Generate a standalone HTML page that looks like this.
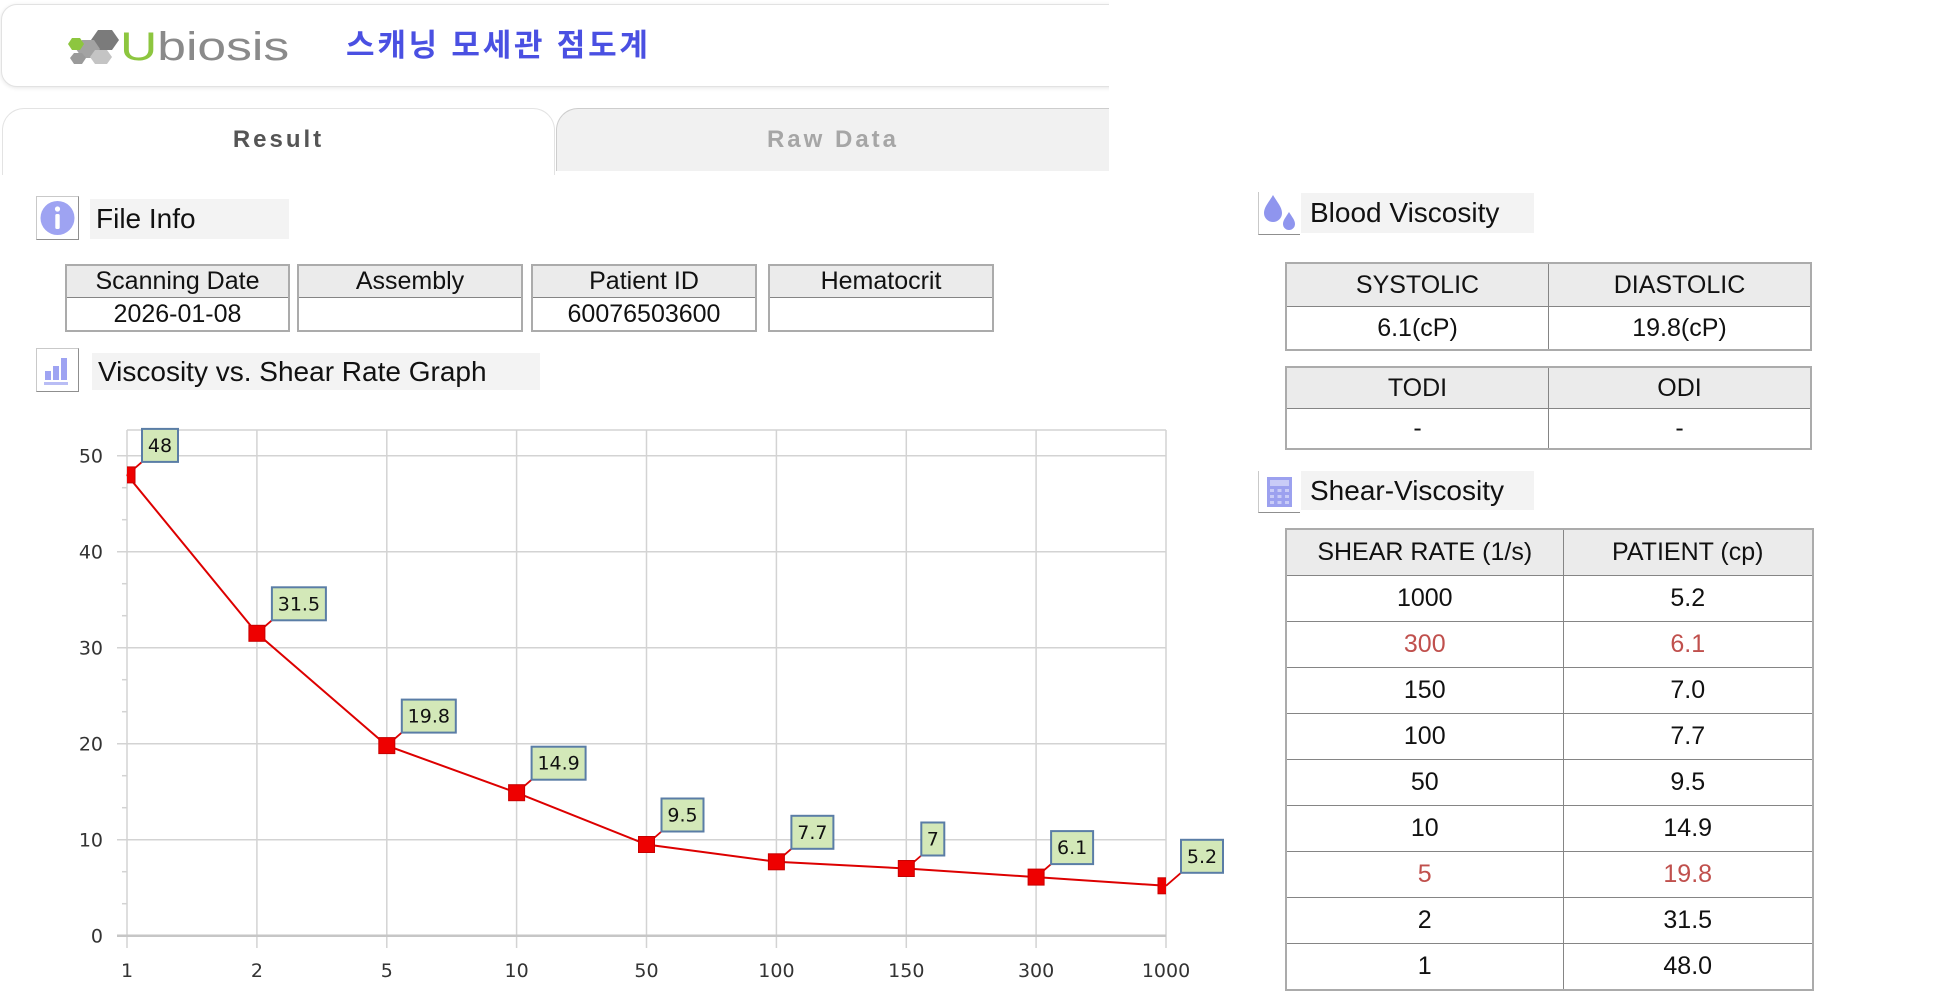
<!DOCTYPE html>
<html>
<head>
<meta charset="utf-8">
<style>
  html,body{margin:0;padding:0;background:#fff;}
  body{width:1943px;height:995px;position:relative;overflow:hidden;font-family:"Liberation Sans",Arial,sans-serif;color:#111;}
  .abs{position:absolute;}
  #left{position:absolute;left:0;top:0;width:1109px;height:175px;overflow:hidden;}
  .card{position:absolute;left:1px;top:4px;width:1160px;height:81px;border:1.5px solid #e2e2e2;border-radius:16px;box-shadow:0 1px 4px rgba(0,0,0,0.10);background:#fff;}
  .tabR{position:absolute;left:2px;top:108px;width:551px;height:80px;border:1.5px solid #e3e3e3;border-bottom:none;border-radius:22px 22px 0 0;background:#fff;}
  .tabD{position:absolute;left:556px;top:108px;width:600px;height:62px;border:1.5px solid #cdcdcd;border-bottom:none;border-radius:22px 22px 0 0;background:#f1f1f1;}
  .tabtxt{position:absolute;top:0;height:62px;line-height:62px;font-weight:bold;font-size:24px;letter-spacing:3px;text-align:center;}
  .ibox{position:absolute;width:43px;height:44px;border:1px solid #c9c9c9;border-right-color:#8f8f8f;border-bottom-color:#8f8f8f;background:#fff;box-sizing:border-box;}
  .lbl{position:absolute;background:#f3f3f3;font-size:28px;height:40px;line-height:40px;padding-left:6px;box-sizing:border-box;color:#111;white-space:nowrap;}
  table.t{position:absolute;border-collapse:collapse;table-layout:fixed;border:2px solid #ababab;font-size:25px;}
  table.t td{border:1.5px solid #858585;text-align:center;padding:0;white-space:nowrap;overflow:hidden;}
  table.t tr.h td{background:#ebebeb;}
  .red{color:#c0504d;}
</style>
</head>
<body>

<div id="left">
  <div class="card"></div>
  <!-- logo -->
  <svg class="abs" style="left:68px;top:28px" width="56" height="38" viewBox="0 0 56 38">
    <polygon points="30,2 44,2 51,12 44,22 30,22 23,12" fill="#7b7b7b"/>
    <polygon points="14,12 26,12 32,21 26,30 14,30 8,21" fill="#a3a3a3"/>
    <polygon points="4,10 12,10 16,16 12,22 4,22 0,16" fill="#8dc63f"/>
    <polygon points="6,25 14,25 18,30 14,36 6,36 2,30" fill="#9a9a9a"/>
    <polygon points="27,22 39,22 44,29 39,36 27,36 22,29" fill="#c4c4c4"/>
  </svg>
  <div class="abs" style="left:120px;top:22px;font-size:40px;line-height:50px;transform:scaleX(1.29);transform-origin:0 0;white-space:nowrap;"><span style="color:#8dc63f">U</span><span style="color:#8a8a8a">biosis</span></div>
  <div class="abs" style="left:346px;top:26px;font-family:'Liberation Sans','Noto Sans CJK KR',sans-serif;font-weight:700;font-size:31px;letter-spacing:2.8px;line-height:40px;color:#4a50e2;white-space:nowrap;">스캐닝 모세관 점도계</div>

  <div class="tabD"><div class="tabtxt" style="left:0;width:552px;color:#a6a6a6;">Raw Data</div></div>
  <div class="tabR"><div class="tabtxt" style="left:0;width:551px;color:#555;">Result</div></div>
</div>

<!-- File Info heading -->
<div class="ibox" style="left:36px;top:196px;">
  <svg width="41" height="42" viewBox="0 0 41 42"><circle cx="20.5" cy="21" r="17" fill="#9ea3f2"/><circle cx="20.5" cy="12" r="2.6" fill="#fff"/><rect x="18.3" y="17" width="4.4" height="15" rx="1.5" fill="#fff"/></svg>
</div>
<div class="lbl" style="left:90px;top:199px;width:199px;">File Info</div>

<table class="t" style="left:65px;top:264px;width:225px;"><tr class="h"><td style="height:31px;line-height:31px;">Scanning Date</td></tr><tr><td style="height:32px;line-height:32px;">2026-01-08</td></tr></table>
<table class="t" style="left:297px;top:264px;width:226px;"><tr class="h"><td style="height:31px;line-height:31px;">Assembly</td></tr><tr><td style="height:32px;line-height:32px;"></td></tr></table>
<table class="t" style="left:531px;top:264px;width:226px;"><tr class="h"><td style="height:31px;line-height:31px;">Patient ID</td></tr><tr><td style="height:32px;line-height:32px;">60076503600</td></tr></table>
<table class="t" style="left:768px;top:264px;width:226px;"><tr class="h"><td style="height:31px;line-height:31px;">Hematocrit</td></tr><tr><td style="height:32px;line-height:32px;"></td></tr></table>

<!-- Graph heading -->
<div class="ibox" style="left:36px;top:348px;">
  <svg width="41" height="42" viewBox="0 0 41 42"><rect x="8" y="22" width="6" height="9" fill="#9ea3f2"/><rect x="16" y="17" width="6" height="14" fill="#9ea3f2"/><rect x="24" y="9" width="6" height="22" fill="#9ea3f2"/><rect x="7" y="33" width="24" height="3" fill="#b9bdf5"/></svg>
</div>
<div class="lbl" style="left:92px;top:353px;width:448px;height:37px;line-height:37px;">Viscosity vs. Shear Rate Graph</div>

<!-- Chart -->
<svg class="abs" style="left:0;top:0" width="1943" height="995" viewBox="0 0 1943 995">
  <defs><clipPath id="pc"><rect x="127" y="380" width="1039" height="600"/></clipPath></defs>
  <g stroke="#d3d3d3" stroke-width="1.5" fill="none">
    <line x1="127" y1="430" x2="1166" y2="430"/>
    <line x1="117" y1="455.7" x2="1166" y2="455.7"/>
    <line x1="117" y1="551.7" x2="1166" y2="551.7"/>
    <line x1="117" y1="647.7" x2="1166" y2="647.7"/>
    <line x1="117" y1="743.7" x2="1166" y2="743.7"/>
    <line x1="117" y1="839.7" x2="1166" y2="839.7"/>
    <line x1="127" y1="430" x2="127" y2="948"/>
    <line x1="256.9" y1="430" x2="256.9" y2="948"/>
    <line x1="386.8" y1="430" x2="386.8" y2="948"/>
    <line x1="516.6" y1="430" x2="516.6" y2="948"/>
    <line x1="646.5" y1="430" x2="646.5" y2="948"/>
    <line x1="776.4" y1="430" x2="776.4" y2="948"/>
    <line x1="906.3" y1="430" x2="906.3" y2="948"/>
    <line x1="1036.1" y1="430" x2="1036.1" y2="948"/>
    <line x1="1166" y1="430" x2="1166" y2="948"/>
    <line x1="122" y1="487.7" x2="127" y2="487.7"/>
    <line x1="122" y1="519.7" x2="127" y2="519.7"/>
    <line x1="122" y1="583.7" x2="127" y2="583.7"/>
    <line x1="122" y1="615.7" x2="127" y2="615.7"/>
    <line x1="122" y1="679.7" x2="127" y2="679.7"/>
    <line x1="122" y1="711.7" x2="127" y2="711.7"/>
    <line x1="122" y1="775.7" x2="127" y2="775.7"/>
    <line x1="122" y1="807.7" x2="127" y2="807.7"/>
    <line x1="122" y1="871.7" x2="127" y2="871.7"/>
    <line x1="122" y1="903.7" x2="127" y2="903.7"/>
  </g>
  <line x1="117" y1="935.7" x2="1166" y2="935.7" stroke="#c6c6c6" stroke-width="2.5"/>

  <g font-family="'DejaVu Sans',Tahoma,sans-serif" font-size="19" fill="#333">
    <g text-anchor="end">
      <text x="103" y="462.7">50</text>
      <text x="103" y="558.7">40</text>
      <text x="103" y="654.7">30</text>
      <text x="103" y="750.7">20</text>
      <text x="103" y="846.7">10</text>
      <text x="103" y="942.7">0</text>
    </g>
    <g text-anchor="middle">
      <text x="127" y="977">1</text>
      <text x="256.9" y="977">2</text>
      <text x="386.8" y="977">5</text>
      <text x="516.6" y="977">10</text>
      <text x="646.5" y="977">50</text>
      <text x="776.4" y="977">100</text>
      <text x="906.3" y="977">150</text>
      <text x="1036.1" y="977">300</text>
      <text x="1166" y="977">1000</text>
    </g>
  </g>

  <polyline fill="none" stroke="#dd0000" stroke-width="2" points="127,474.9 256.9,633.3 386.8,745.6 516.6,792.7 646.5,844.5 776.4,861.8 906.3,868.5 1036.1,877.1 1166,885.8"/>

  <g stroke="#dd0000" stroke-width="1.8">
    <line x1="127" y1="474.9" x2="142" y2="461.9"/>
    <line x1="256.9" y1="633.3" x2="271.9" y2="620.3"/>
    <line x1="386.8" y1="745.6" x2="401.8" y2="732.6"/>
    <line x1="516.6" y1="792.7" x2="531.6" y2="779.7"/>
    <line x1="646.5" y1="844.5" x2="661.5" y2="831.5"/>
    <line x1="776.4" y1="861.8" x2="791.4" y2="848.8"/>
    <line x1="906.3" y1="868.5" x2="921.3" y2="855.5"/>
    <line x1="1036.1" y1="877.1" x2="1051.1" y2="864.1"/>
    <line x1="1166" y1="885.8" x2="1181" y2="872.8"/>
  </g>

  <g clip-path="url(#pc)" fill="#ee0000" stroke="#c80000" stroke-width="1">
    <rect x="119" y="466.9" width="16" height="16"/>
    <rect x="248.9" y="625.3" width="16" height="16"/>
    <rect x="378.8" y="737.6" width="16" height="16"/>
    <rect x="508.6" y="784.7" width="16" height="16"/>
    <rect x="638.5" y="836.5" width="16" height="16"/>
    <rect x="768.4" y="853.8" width="16" height="16"/>
    <rect x="898.3" y="860.5" width="16" height="16"/>
    <rect x="1028.1" y="869.1" width="16" height="16"/>
    <rect x="1158" y="877.8" width="16" height="16"/>
  </g>

  <g fill="#d3e8b8" stroke="#5a7da6" stroke-width="2">
    <rect x="142" y="428.9" width="36" height="33"/>
    <rect x="271.9" y="587.3" width="54" height="33"/>
    <rect x="401.8" y="699.6" width="54" height="33"/>
    <rect x="531.6" y="746.7" width="54" height="33"/>
    <rect x="661.5" y="798.5" width="42" height="33"/>
    <rect x="791.4" y="815.8" width="42" height="33"/>
    <rect x="921.3" y="822.5" width="23" height="33"/>
    <rect x="1051.1" y="831.1" width="42" height="33"/>
    <rect x="1181" y="839.8" width="42" height="33"/>
  </g>
  <g font-family="'DejaVu Sans',Tahoma,sans-serif" font-size="19" fill="#111" text-anchor="middle">
    <text x="160" y="451.9">48</text>
    <text x="298.9" y="610.3">31.5</text>
    <text x="428.8" y="722.6">19.8</text>
    <text x="558.6" y="769.7">14.9</text>
    <text x="682.5" y="821.5">9.5</text>
    <text x="812.4" y="838.8">7.7</text>
    <text x="932.8" y="845.5">7</text>
    <text x="1072.1" y="854.1">6.1</text>
    <text x="1202" y="862.8">5.2</text>
  </g>
</svg>

<!-- Blood Viscosity heading -->
<div class="ibox" style="left:1258px;top:192px;width:42px;height:43px;border-top:none;border-right:none;">
  <svg width="41" height="42" viewBox="0 0 41 42"><path d="M14,3 C18,10 23,15 23,21 A9,9 0 0 1 5,21 C5,15 10,10 14,3 Z" fill="#8f95ee"/><path d="M30,20 C33,25 36,28 36,32 A6,6 0 0 1 24,32 C24,28 27,25 30,20 Z" fill="#8f95ee"/></svg>
</div>
<div class="lbl" style="left:1301px;top:193px;width:233px;padding-left:9px;">Blood Viscosity</div>

<table class="t" style="left:1285px;top:262px;width:527px;">
  <tr class="h"><td style="height:42px;line-height:42px;">SYSTOLIC</td><td>DIASTOLIC</td></tr>
  <tr><td style="height:42px;line-height:42px;">6.1(cP)</td><td>19.8(cP)</td></tr>
</table>
<table class="t" style="left:1285px;top:366px;width:527px;">
  <tr class="h"><td style="height:40px;line-height:40px;">TODI</td><td>ODI</td></tr>
  <tr><td style="height:39px;line-height:39px;">-</td><td>-</td></tr>
</table>

<!-- Shear-Viscosity heading -->
<div class="ibox" style="left:1258px;top:471px;width:42px;height:42px;border-top:none;border-right:none;">
  <svg width="41" height="41" viewBox="0 0 41 41"><rect x="8" y="6" width="25" height="30" fill="#9ca1ef"/><rect x="11" y="9" width="19" height="6" fill="#c9ccf7"/>
  <g fill="#c9ccf7"><rect x="11" y="18" width="4" height="3"/><rect x="18.5" y="18" width="4" height="3"/><rect x="26" y="18" width="4" height="3"/><rect x="11" y="24" width="4" height="3"/><rect x="18.5" y="24" width="4" height="3"/><rect x="26" y="24" width="4" height="3"/><rect x="11" y="30" width="4" height="3"/><rect x="18.5" y="30" width="4" height="3"/><rect x="26" y="30" width="4" height="3"/></g></svg>
</div>
<div class="lbl" style="left:1301px;top:471px;width:233px;height:39px;line-height:39px;padding-left:9px;">Shear-Viscosity</div>

<table class="t" style="left:1285px;top:528px;width:527px;">
  <colgroup><col style="width:277px"><col style="width:250px"></colgroup>
  <tr class="h"><td style="height:45px;line-height:45px;">SHEAR RATE (1/s)</td><td>PATIENT (cp)</td></tr>
  <tr><td style="height:45px;line-height:45px;">1000</td><td>5.2</td></tr>
  <tr class="red"><td style="height:45px;line-height:45px;">300</td><td>6.1</td></tr>
  <tr><td style="height:45px;line-height:45px;">150</td><td>7.0</td></tr>
  <tr><td style="height:45px;line-height:45px;">100</td><td>7.7</td></tr>
  <tr><td style="height:45px;line-height:45px;">50</td><td>9.5</td></tr>
  <tr><td style="height:45px;line-height:45px;">10</td><td>14.9</td></tr>
  <tr class="red"><td style="height:45px;line-height:45px;">5</td><td>19.8</td></tr>
  <tr><td style="height:45px;line-height:45px;">2</td><td>31.5</td></tr>
  <tr><td style="height:45px;line-height:45px;">1</td><td>48.0</td></tr>
</table>

</body>
</html>
